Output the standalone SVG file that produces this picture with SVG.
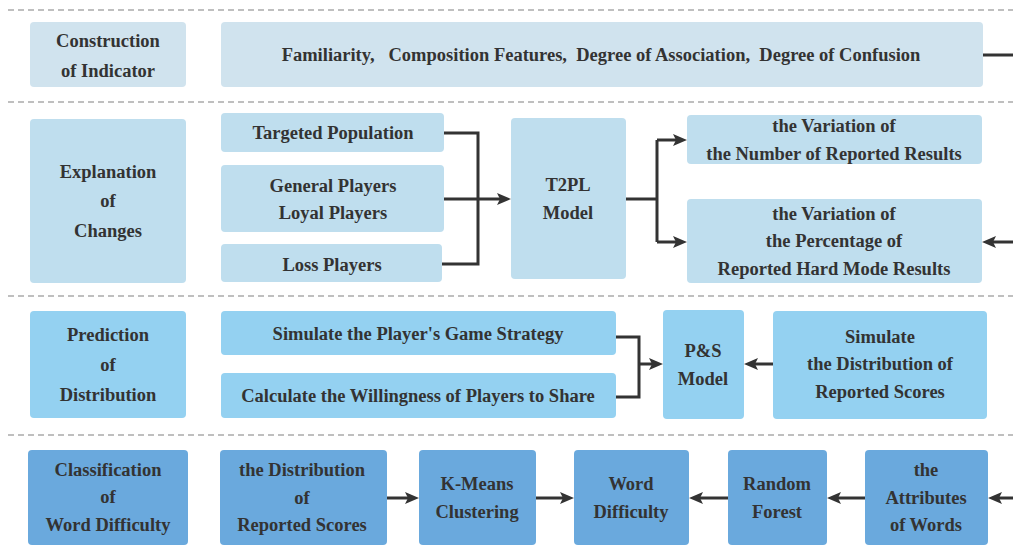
<svg xmlns="http://www.w3.org/2000/svg" width="1013" height="559" viewBox="0 0 1013 559">
<rect width="1013" height="559" fill="#fff"/>
<g id="separators" stroke="#aaa" stroke-width="1.5" stroke-dasharray="6,4" fill="none">
<line x1="8" y1="10" x2="1013" y2="10"/>
<line x1="8" y1="102" x2="1013" y2="102"/>
<line x1="8" y1="296" x2="1013" y2="296"/>
<line x1="8" y1="435" x2="1013" y2="435"/>
</g>
<g font-family="Liberation Serif" font-weight="bold" font-size="18.5" text-anchor="middle">
<g id="row1" fill="#d0e3ee">
<g id="row1-label"><rect x="30" y="22" width="156" height="65" rx="4"/><g fill="#333"><text x="108" y="47">Construction</text><text x="108" y="77">of Indicator</text></g></g>
<g id="row1-indicators"><rect x="221" y="22" width="762" height="65" rx="4"/><g fill="#333"><text x="601" y="61" xml:space="preserve">Familiarity,   Composition Features,  Degree of Association,  Degree of Confusion</text></g></g>
</g>
<g id="row2" fill="#bfdeee">
<g id="row2-label"><rect x="30" y="119" width="156" height="164" rx="4"/><g fill="#333"><text x="108" y="178">Explanation</text><text x="108" y="207">of</text><text x="108" y="237">Changes</text></g></g>
<g id="targeted"><rect x="221" y="113" width="223" height="39" rx="4"/><g fill="#333"><text x="333" y="139">Targeted Population</text></g></g>
<g id="general"><rect x="221" y="165" width="223" height="67" rx="4"/><g fill="#333"><text x="333" y="192">General Players</text><text x="333" y="219">Loyal Players</text></g></g>
<g id="loss"><rect x="221" y="244" width="221" height="38" rx="4"/><g fill="#333"><text x="332" y="271">Loss Players</text></g></g>
<g id="t2pl"><rect x="511" y="118" width="115" height="161" rx="4"/><g fill="#333"><text x="568" y="191">T2PL</text><text x="568" y="219">Model</text></g></g>
<g id="var1"><rect x="687" y="115" width="295" height="49" rx="4"/><g fill="#333"><text x="834" y="132">the Variation of</text><text x="834" y="160">the Number of Reported Results</text></g></g>
<g id="var2"><rect x="687" y="199" width="295" height="84" rx="4"/><g fill="#333"><text x="834" y="220">the Variation of</text><text x="834" y="247">the Percentage of</text><text x="834" y="275">Reported Hard Mode Results</text></g></g>
</g>
<g id="row3" fill="#94d1f1">
<g id="row3-label"><rect x="30" y="311" width="156" height="107" rx="4"/><g fill="#333"><text x="108" y="341">Prediction</text><text x="108" y="371">of</text><text x="108" y="401">Distribution</text></g></g>
<g id="strategy"><rect x="221" y="311" width="395" height="44" rx="4"/><g fill="#333"><text x="418" y="340">Simulate the Player's Game Strategy</text></g></g>
<g id="share"><rect x="221" y="373" width="395" height="45" rx="4"/><g fill="#333"><text x="418" y="402">Calculate the Willingness of Players to Share</text></g></g>
<g id="ps"><rect x="663" y="310" width="81" height="109" rx="4"/><g fill="#333"><text x="703" y="357">P&amp;S</text><text x="703" y="385">Model</text></g></g>
<g id="simdist"><rect x="773" y="311" width="214" height="108" rx="4"/><g fill="#333"><text x="880" y="343">Simulate</text><text x="880" y="370">the Distribution of</text><text x="880" y="398">Reported Scores</text></g></g>
</g>
<g id="row4" fill="#6aa9dd">
<g id="row4-label"><rect x="28" y="450" width="160" height="95" rx="4"/><g fill="#333"><text x="108" y="476">Classification</text><text x="108" y="503">of</text><text x="108" y="531">Word Difficulty</text></g></g>
<g id="dist"><rect x="220" y="450" width="167" height="95" rx="4"/><g fill="#333"><text x="302" y="476">the Distribution</text><text x="302" y="504">of</text><text x="302" y="531">Reported Scores</text></g></g>
<g id="kmeans"><rect x="419" y="450" width="117" height="95" rx="4"/><g fill="#333"><text x="477" y="490">K-Means</text><text x="477" y="518">Clustering</text></g></g>
<g id="worddiff"><rect x="574" y="450" width="115" height="95" rx="4"/><g fill="#333"><text x="631" y="490">Word</text><text x="631" y="518">Difficulty</text></g></g>
<g id="rf"><rect x="728" y="450" width="99" height="95" rx="4"/><g fill="#333"><text x="777" y="490">Random</text><text x="777" y="518">Forest</text></g></g>
<g id="attr"><rect x="865" y="450" width="123" height="95" rx="4"/><g fill="#333"><text x="926" y="476">the</text><text x="926" y="504">Attributes</text><text x="926" y="531">of Words</text></g></g>
</g>
</g>
<g id="connectors">
<g stroke="#333" stroke-width="3" fill="none">
<path d="M983,55 H1013"/>
<path d="M444,133 H478 V264 H442"/>
<path d="M444,199 H500"/>
<path d="M626,199 H657"/>
<path d="M657,140 V242"/>
<path d="M657,140 H676"/>
<path d="M657,242 H676"/>
<path d="M1013,242 H993"/>
<path d="M616,337 H639 V397 H616"/>
<path d="M639,364 H652"/>
<path d="M773,364 H755"/>
<path d="M387,498 H408"/>
<path d="M536,498 H563"/>
<path d="M728,498 H700"/>
<path d="M865,498 H838"/>
<path d="M1013,498 H999"/>
</g>
<g fill="#333">
<polygon points="511,199 497,193 500,199 497,205"/>
<polygon points="687,140 673,134 676,140 673,146"/>
<polygon points="687,242 673,236 676,242 673,248"/>
<polygon points="982,242 996,236 993,242 996,248"/>
<polygon points="663,364 649,358 652,364 649,370"/>
<polygon points="744,364 758,358 755,364 758,370"/>
<polygon points="419,498 405,492 408,498 405,504"/>
<polygon points="574,498 560,492 563,498 560,504"/>
<polygon points="689,498 703,492 700,498 703,504"/>
<polygon points="827,498 841,492 838,498 841,504"/>
<polygon points="988,498 1002,492 999,498 1002,504"/>
</g>
</g>
</svg>
